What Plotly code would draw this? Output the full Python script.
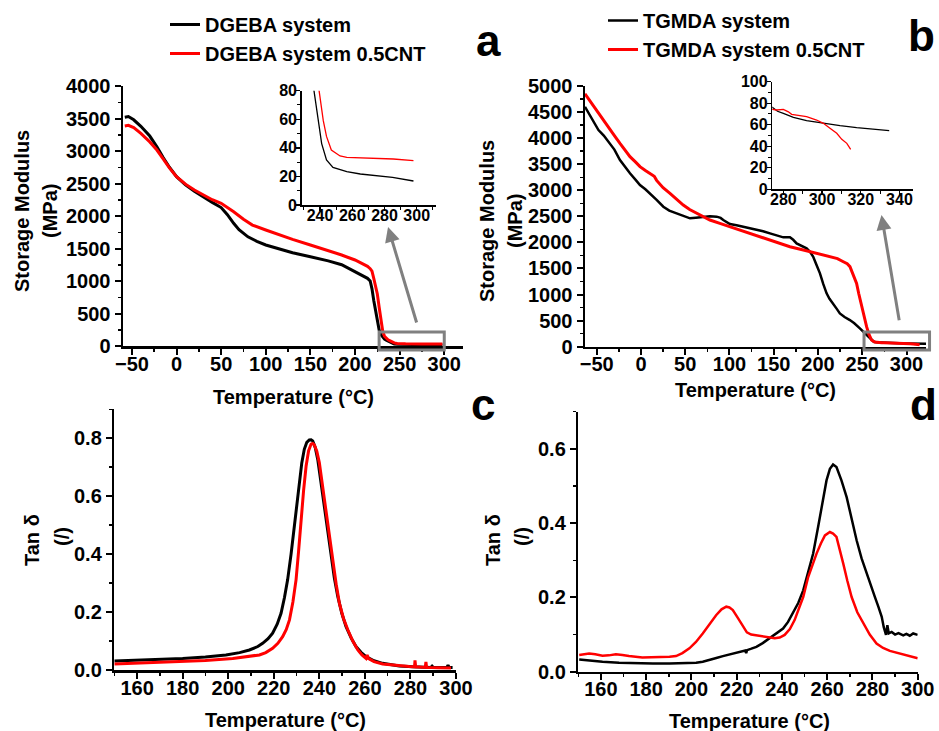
import plotly.graph_objects as go

W, H = 939, 731
FONT = "Liberation Sans, Arial, sans-serif"
BLACK = "#000000"
RED = "#ff0000"
GRAY = "#808080"

# ---------------- data: storage modulus, DGEBA ----------------
dg_T = [-58, -54, -48, -40, -30, -22, -15, -8, 0, 10, 20, 30, 40, 50, 57, 64, 70, 80, 90,
        100, 115, 130, 150, 170, 185, 200, 210, 214, 217, 219, 221, 223, 225, 227, 229, 231,
        233, 235, 236.5, 239, 241, 244, 248, 256.6, 265, 285, 298]
dg_E = [3520, 3530, 3480, 3380, 3230, 3066, 2900, 2750, 2605, 2480, 2380, 2290, 2210, 2130,
        2020, 1887, 1790, 1680, 1610, 1554, 1490, 1435, 1374, 1310, 1250, 1143, 1075, 1041,
        1000, 880, 700, 540, 380, 250, 175, 130, 105, 90, 80, 59, 43, 31.5, 26.3, 23.3, 21.7,
        19.3, 16.8]
dgc_T = [-58, -54, -48, -40, -30, -22, -15, -8, 0, 10, 20, 30, 40, 50, 64, 75, 85, 100, 115,
         130, 150, 170, 185, 200, 210, 214, 217, 219, 221, 223, 225, 227, 229, 231, 233, 235,
         237, 239.4, 242, 244, 247, 252.4, 256.6, 275, 285.5, 298]
dgc_E = [3385, 3395, 3360, 3270, 3140, 3015, 2880, 2740, 2605, 2490, 2400, 2320, 2250, 2195,
         2066, 1950, 1860, 1785, 1710, 1640, 1554, 1470, 1400, 1323, 1260, 1225, 1190, 1150,
         1040, 940, 800, 600, 380, 230, 150, 115, 96, 80, 59, 48, 38.5, 34.3, 33.3, 32.6,
         32.2, 31]

# ---------------- data: storage modulus, TGMDA ----------------
tg_T = [-63.2, -55, -48, -42, -35, -30, -23.7, -18, -12.4, -6, -1.1, 5, 10.2, 18, 25.3, 32,
        40.3, 48, 55.4, 62, 70.4, 78, 85.5, 90, 93, 97, 100.5, 108, 115.6, 123, 130.6, 138,
        145.7, 153, 160.8, 168.3, 172, 175.8, 181, 187.1, 191, 194.6, 198, 202.2, 206, 209.7,
        213, 217.2, 221, 224.7, 230, 236, 241, 247.3, 252, 256.7, 260, 263, 266, 270, 274.5,
        277, 280, 285.2, 292, 300.7, 309.3, 317.9, 326.6, 334.7]
tg_E = [4600, 4350, 4156, 4050, 3900, 3780, 3580, 3450, 3325, 3200, 3101, 3020, 2941, 2810,
        2685, 2610, 2558, 2510, 2462, 2475, 2494, 2500, 2494, 2470, 2430, 2380, 2353, 2330,
        2302, 2280, 2250, 2215, 2174, 2140, 2097, 2097, 2050, 1982, 1940, 1886, 1820, 1726,
        1580, 1407, 1200, 1023, 920, 831, 730, 639, 570, 511, 450, 352, 270, 192, 130, 95, 84,
        79, 76, 72.5, 70.6, 66.9, 63.8, 61.3, 59.1, 57.3, 55.7, 54.5]
tgc_T = [-63.2, -55, -48.1, -42, -35, -30, -23.7, -18, -12.4, -6, -1.1, 5, 12.1, 15, 17.7, 25,
         32.8, 40, 47.8, 55, 62.9, 70, 77.9, 90, 100.5, 112, 123.1, 135, 145.7, 157, 168.3,
         180, 190.9, 202, 213.5, 222, 228.6, 233, 236.1, 239, 241, 243.6, 246, 249.2, 252,
         254.9, 257.5, 260.5, 264, 268, 272, 274.3, 276.6, 280, 282.6, 284.3, 288.6, 292,
         297.2, 300.7, 304.1, 307.6, 310.2, 312.8, 314.8]
tgc_E = [4850, 4650, 4476, 4320, 4156, 4050, 3900, 3770, 3645, 3540, 3453, 3380, 3293, 3270,
         3190, 3050, 2941, 2830, 2717, 2630, 2558, 2490, 2430, 2360, 2302, 2240, 2174, 2110,
         2046, 1980, 1918, 1870, 1822, 1770, 1726, 1690, 1630, 1590, 1535, 1420, 1330, 1215,
         1020, 767, 560, 384, 240, 128, 90, 78, 75, 74.3, 73.7, 74.3, 72, 69.7, 68.4, 67.5,
         64.4, 61.3, 56.7, 52, 46.4, 42.7, 37.2]

# ---------------- data: tan delta, DGEBA ----------------
dgt_T = [150, 165, 180, 190, 199, 205, 209.3, 213, 215.1, 217.5, 219.5, 221.5, 223.2, 224.7,
         226.1, 227.6, 229, 230.1, 231.2, 232.3, 233.4, 234.5, 235.6, 236.4, 237.1, 238.2,
         239.3, 240.7, 242.2, 243.6, 245.1, 246.6, 248.1, 249.9, 251.7, 254, 256.1, 258.3,
         260.5, 264, 267.8, 271.5, 275.1, 281, 286.8, 289, 289.5, 290, 296, 296.5, 297, 298.5]
dgt_V = [0.031, 0.035, 0.040, 0.045, 0.052, 0.060, 0.069, 0.081, 0.092, 0.108, 0.127, 0.158,
         0.196, 0.250, 0.312, 0.400, 0.497, 0.580, 0.658, 0.715, 0.762, 0.786, 0.794, 0.795,
         0.791, 0.768, 0.727, 0.650, 0.566, 0.480, 0.393, 0.318, 0.254, 0.195, 0.150, 0.110,
         0.081, 0.061, 0.046, 0.032, 0.023, 0.018, 0.014, 0.011, 0.009, 0.009, 0.013, 0.009,
         0.009, 0.017, 0.009, 0.009]
dgtc_T = [150, 165, 180, 190, 202, 208, 213.7, 216.5, 219.5, 221.8, 223.9, 225.5, 226.9,
          228.4, 229.8, 230.9, 232, 233.1, 234.2, 235.3, 236.4, 237.1, 237.8, 238.9, 240,
          241.5, 243, 244.5, 245.9, 247.4, 248.8, 250.6, 252.5, 254.7, 256.9, 258.7, 260.5,
          261, 261.5, 264, 267.8, 273, 279.5, 281.8, 282, 282.3, 286.5, 286.8, 287.1, 292,
          297.8]
dgtc_V = [0.021, 0.025, 0.029, 0.033, 0.040, 0.045, 0.052, 0.060, 0.075, 0.092, 0.115, 0.140,
          0.173, 0.235, 0.312, 0.410, 0.520, 0.620, 0.704, 0.757, 0.780, 0.782, 0.777, 0.755,
          0.716, 0.630, 0.543, 0.455, 0.370, 0.296, 0.231, 0.178, 0.139, 0.100, 0.069, 0.052,
          0.040, 0.052, 0.040, 0.029, 0.021, 0.016, 0.012, 0.011, 0.033, 0.011, 0.009, 0.028,
          0.009, 0.008, 0.007]

# ---------------- data: tan delta, TGMDA ----------------
tgt_T = [150.4, 155, 160.7, 168, 175.5, 183, 190.3, 196, 202.1, 205, 208, 211, 213.9, 217,
         219.8, 222, 223.8, 224.2, 224.6, 226.5, 228.7, 231.5, 234.6, 237.5, 240.5, 242.7,
         244.9, 247.2, 249.4, 251.6, 253.8, 256, 258.2, 259.7, 261.2, 262.6, 264.1, 266.3,
         268.6, 270.8, 273, 275.2, 277.4, 279.3, 281.1, 282.6, 284.1, 285, 286, 286.6, 287.2,
         288.5, 290, 291.5, 293.6, 295, 296.5, 298, 300]
tgt_V = [0.033, 0.030, 0.027, 0.024, 0.022, 0.022, 0.022, 0.022, 0.024, 0.027, 0.031, 0.037,
         0.042, 0.047, 0.051, 0.054, 0.057, 0.050, 0.058, 0.062, 0.067, 0.077, 0.090, 0.103,
         0.116, 0.134, 0.157, 0.185, 0.219, 0.265, 0.318, 0.390, 0.470, 0.515, 0.546, 0.558,
         0.551, 0.515, 0.470, 0.410, 0.354, 0.305, 0.264, 0.232, 0.201, 0.175, 0.148, 0.120,
         0.099, 0.125, 0.103, 0.107, 0.100, 0.104, 0.098, 0.102, 0.097, 0.103, 0.099]
tgtc_T = [150.4, 154.8, 157.5, 160.7, 163.5, 166.6, 169.5, 172.4, 178.3, 184, 190.3, 193.2,
          196, 199.1, 202, 205, 208, 210.9, 213.3, 215.4, 216.8, 218.3, 220.5, 222.8, 224.5,
          226.4, 229, 231.6, 234.2, 236.8, 239, 241.2, 243.5, 245.6, 247.5, 249.4, 251.6,
          253.5, 255.3, 257.2, 259, 261.2, 262.6, 264.1, 265.6, 267.1, 268.9, 270.8, 273.3,
          275.9, 278.8, 281.8, 284.7, 287.7, 290.6, 293.6, 296.8, 300]
tgtc_V = [0.045, 0.049, 0.047, 0.043, 0.044, 0.047, 0.045, 0.042, 0.0385, 0.039, 0.040, 0.042,
          0.050, 0.063, 0.080, 0.103, 0.128, 0.152, 0.168, 0.175, 0.173, 0.166, 0.145, 0.121,
          0.106, 0.100, 0.097, 0.094, 0.092, 0.090, 0.092, 0.099, 0.115, 0.139, 0.170, 0.201,
          0.255, 0.290, 0.318, 0.345, 0.367, 0.376, 0.372, 0.363, 0.330, 0.291, 0.245, 0.201,
          0.160, 0.130, 0.100, 0.076, 0.064, 0.056, 0.051, 0.047, 0.041, 0.036]

# ---------------- labels ----------------
names_a = ["DGEBA system", "DGEBA system 0.5CNT"]
names_b = ["TGMDA system", "TGMDA system 0.5CNT"]
x_title = "Temperature (°C)"
y_title_mod = ["Storage Modulus", "(MPa)"]
y_title_tan = ["Tan δ", "(/)"]
panel_letters = ["a", "b", "c", "d"]

# axis ranges
rng = {
    "x": [-60, 321], "y": [0, 4000],
    "x2": [228.6, 312], "y2": [0, 80],
    "x3": [-63.2, 322], "y3": [0, 5000],
    "x4": [274.3, 347], "y4": [0, 100],
    "x5": [150, 300], "y5": [0, 0.9],
    "x6": [150, 300], "y6": [0, 0.7],
}


def dx(p0, p1):
    return [p0 / W, p1 / W]


def dy(top, bottom):
    return [1 - bottom / H, 1 - top / H]


fig = go.Figure()


def add(x, y, color, width, xa, ya, name=None, legend=None):
    fig.add_trace(go.Scatter(
        x=x, y=y, mode="lines", line=dict(color=color, width=width),
        xaxis=xa, yaxis=ya, name=name, showlegend=legend is not None,
        legend=legend if legend else "legend", hoverinfo="skip"))


add(dg_T, dg_E, BLACK, 3, "x", "y", names_a[0], "legend")
add(dgc_T, dgc_E, RED, 3, "x", "y", names_a[1], "legend")
add(dg_T, dg_E, BLACK, 1.3, "x2", "y2")
add(dgc_T, dgc_E, RED, 1.3, "x2", "y2")
add(tg_T, tg_E, BLACK, 2.5, "x3", "y3", names_b[0], "legend2")
add(tgc_T, tgc_E, RED, 3, "x3", "y3", names_b[1], "legend2")
add(tg_T, tg_E, BLACK, 1.3, "x4", "y4")
add(tgc_T, tgc_E, RED, 1.3, "x4", "y4")
add(dgt_T, dgt_V, BLACK, 3, "x5", "y5")
add(dgtc_T, dgtc_V, RED, 3, "x5", "y5")
add(tgt_T, tgt_V, BLACK, 2.5, "x6", "y6")
add(tgtc_T, tgtc_V, RED, 2.5, "x6", "y6")


def axis(dom, r, dtick, minor, anchor, size=20, lw=2.5, tl=6, fmt=None, standoff=0):
    d = dict(domain=dom, range=r, dtick=dtick, tick0=0, anchor=anchor,
             showline=True, linecolor=BLACK, linewidth=lw, ticks="outside",
             ticklen=tl, tickwidth=2 if lw > 2 else 1.3, tickcolor=BLACK,
             showgrid=False, zeroline=False, mirror=False,
             tickfont=dict(family=FONT, size=size, color=BLACK, weight="bold"),
             minor=dict(ticks="outside", ticklen=3, tickwidth=1.5 if lw > 2 else 1,
                        tickcolor=BLACK, dtick=minor, tick0=0, showgrid=False),
             ticklabelstandoff=standoff,
             fixedrange=True)
    if fmt:
        d["tickformat"] = fmt
    return d


fig.update_layout(
    xaxis=axis(dx(123, 463), rng["x"], 50, 25, "y", standoff=-8),
    yaxis=axis(dy(86, 346), rng["y"], 500, 250, "x"),
    xaxis2=axis(dx(301.7, 436), rng["x2"], 20, 10, "y2", size=16, lw=1.5, tl=4, standoff=-9),
    yaxis2=axis(dy(90.7, 205), rng["y2"], 20, 10, "x2", size=16, lw=1.5, tl=4, standoff=-4),
    xaxis3=axis(dx(585, 926), rng["x3"], 50, 25, "y3", standoff=-8),
    yaxis3=axis(dy(86, 346.7), rng["y3"], 500, 250, "x3"),
    xaxis4=axis(dx(772.3, 913), rng["x4"], 20, 10, "y4", size=16, lw=1.5, tl=4, standoff=-9),
    yaxis4=axis(dy(81.7, 189.3), rng["y4"], 20, 10, "x4", size=16, lw=1.5, tl=4, standoff=-4),
    xaxis5=axis(dx(114.3, 456), rng["x5"], 20, 10, "y5", standoff=-8),
    yaxis5=axis(dy(409.3, 670), rng["y5"], 0.2, 0.1, "x5", fmt=".1f"),
    xaxis6=axis(dx(578.3, 917.7), rng["x6"], 20, 10, "y6", standoff=-8),
    yaxis6=axis(dy(411.7, 671.7), rng["y6"], 0.2, 0.1, "x6", fmt=".1f"),
)

# legends
leg_font = dict(family=FONT, size=20, color=BLACK, weight="bold")
fig.update_layout(
    legend=dict(x=165 / W, y=1 - 5 / H, xanchor="left", yanchor="top",
                bgcolor="rgba(0,0,0,0)", font=leg_font, tracegroupgap=0),
    legend2=dict(x=603 / W, y=1 - 1 / H, xanchor="left", yanchor="top",
                 bgcolor="rgba(0,0,0,0)", font=leg_font, tracegroupgap=0),
)

annotations = []


def ptext(txt, px, py, size=20, angle=0):
    annotations.append(dict(text=txt, x=px / W, y=1 - py / H, xref="paper", yref="paper",
                            showarrow=False, xanchor="center", yanchor="middle",
                            textangle=angle,
                            font=dict(family=FONT, size=size, color=BLACK, weight="bold")))


# x titles
ptext(x_title, 293, 397)
ptext(x_title, 755, 390)
ptext(x_title, 285, 720)
ptext(x_title, 749, 721)
# y titles
ptext(y_title_mod[0], 22, 211, angle=-90)
ptext(y_title_mod[1], 50, 211, angle=-90)
ptext(y_title_mod[0], 487, 221, angle=-90)
ptext(y_title_mod[1], 515, 221, angle=-90)
ptext(y_title_tan[0], 32, 540, angle=-90)
ptext(y_title_tan[1], 62, 537, angle=-90)
ptext(y_title_tan[0], 493, 540, angle=-90)
ptext(y_title_tan[1], 522, 537, angle=-90)
# panel letters
ptext(panel_letters[0], 488, 40, size=44)
ptext(panel_letters[1], 921, 36, size=44)
ptext(panel_letters[2], 483, 404, size=44)
ptext(panel_letters[3], 923, 404, size=44)

# zoom arrows (tail near box, head near inset)
for xa, ya, head, tail in [("x", "y", (237, 1830), (269.5, 338)),
                           ("x3", "y3", (271.7, 2528), (292, 480))]:
    annotations.append(dict(text="", x=head[0], y=head[1], ax=tail[0], ay=tail[1],
                            xref=xa, yref=ya, axref=xa, ayref=ya, showarrow=True,
                            arrowhead=2, arrowsize=1, arrowwidth=3, arrowcolor=GRAY,
                            standoff=0, startstandoff=0))
fig.update_layout(annotations=annotations)

# zoom boxes, in data units converted to axis-domain fractions
shapes = []
for xa, ya, (x0, x1, y0, y1) in [("x", "y", (227, 300, -60, 215)),
                                 ("x3", "y3", (252, 326, -63, 282))]:
    rx, ry = rng[xa], rng[ya]
    fx = lambda v: (v - rx[0]) / (rx[1] - rx[0])
    fy = lambda v: (v - ry[0]) / (ry[1] - ry[0])
    shapes.append(dict(type="rect", xref=xa + " domain", yref=ya + " domain",
                       x0=fx(x0), x1=fx(x1), y0=fy(y0), y1=fy(y1),
                       line=dict(color=GRAY, width=3), fillcolor="rgba(0,0,0,0)"))
fig.update_layout(shapes=shapes)

fig.update_layout(width=W, height=H,
                  margin=dict(l=0, r=0, t=0, b=0, autoexpand=False),
                  paper_bgcolor="white", plot_bgcolor="white",
                  font=dict(family=FONT, color=BLACK))

fig.write_html("out.html",
               config={"displayModeBar": False, "staticPlot": True},
               post_script="document.body.style.margin='0';"
                           "document.body.style.overflow='hidden';")
